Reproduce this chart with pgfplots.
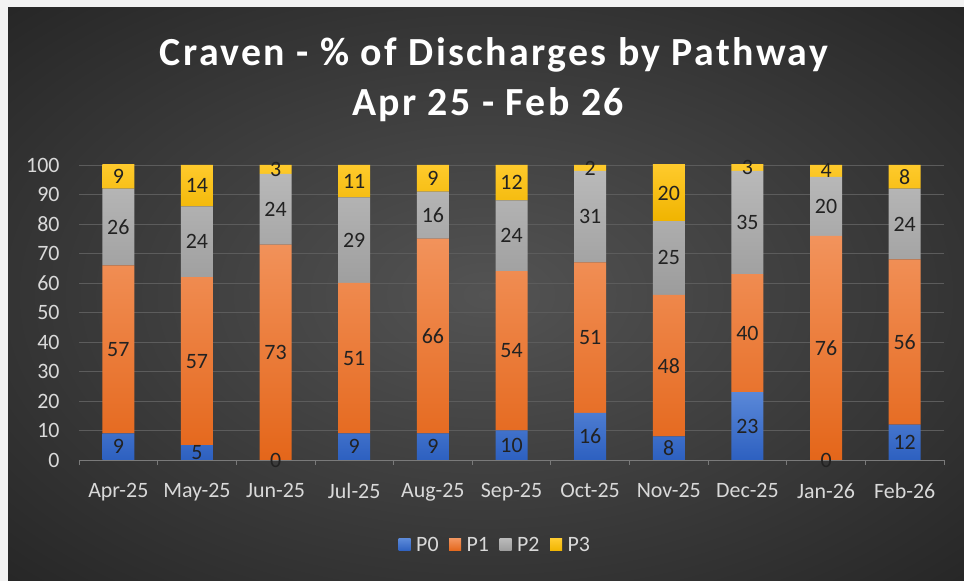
\documentclass[border=0pt]{standalone}
\usepackage{pgfplots}
\usepackage{pgfplotstable}
\pgfplotsset{compat=1.18}
\usepackage{fontspec}
\setmainfont{Carlito}
\definecolor{bgouter}{HTML}{F2F2F2}
\definecolor{bgin}{HTML}{535353}
\definecolor{bgout}{HTML}{262626}
\definecolor{gridc}{HTML}{5C5C5C}
\definecolor{axisc}{HTML}{7A7A7A}
\definecolor{tickc}{HTML}{D9D9D9}
\definecolor{lblc}{HTML}{222222}
\definecolor{p0t}{HTML}{5A88D8}
\definecolor{p0b}{HTML}{2D60C0}
\definecolor{p1t}{HTML}{F2935C}
\definecolor{p1b}{HTML}{E4661A}
\definecolor{p2t}{HTML}{B9B9B9}
\definecolor{p2b}{HTML}{9C9C9C}
\definecolor{p3t}{HTML}{FFCB2E}
\definecolor{p3b}{HTML}{F0B400}
\pgfdeclareradialshading{bgshade}{\pgfpoint{0bp}{0bp}}{color(0bp)=(bgin); color(36bp)=(bgout); color(50bp)=(bgout)}
% label positions (middle of each visible segment) and the values shown
\pgfplotstableread{
x y v
0 4.5 9
1 2.5 5
2 0 0
3 4.5 9
4 4.5 9
5 5 10
6 8 16
7 4 8
8 11.5 23
9 0 0
10 6 12
0 37.5 57
1 33.5 57
2 36.5 73
3 34.5 51
4 42 66
5 37 54
6 41.5 51
7 32 48
8 43 40
9 38 76
10 40 56
0 79 26
1 74 24
2 85 24
3 74.5 29
4 83 16
5 76 24
6 82.5 31
7 68.5 25
8 80.5 35
9 86 20
10 80 24
0 96 9
1 93 14
2 98.5 3
3 94.5 11
4 95.5 9
5 94 12
6 99 2
7 90.5 20
8 99 3
9 98 4
10 96 8
}\labels
\begin{document}
\begin{tikzpicture}
\fill[bgouter] (0bp,0bp) rectangle (964bp,581bp);
\shade[shading=bgshade] (8bp,0bp) rectangle (964bp,573bp);
\node[white, font=\fontsize{40}{44}\selectfont\bfseries\addfontfeatures{LetterSpace=6}] at (494bp,526bp) {Craven - \% of Discharges by Pathway};
\node[white, font=\fontsize{40}{44}\selectfont\bfseries\addfontfeatures{LetterSpace=6}] at (488bp,476bp) {Apr 25 - Feb 26};
\begin{axis}[
  at={(79bp,121bp)}, anchor=south west,
  scale only axis, width=865bp, height=295bp,
  ybar stacked, bar width=32bp,
  xmin=-0.5, xmax=10.5, ymin=0, ymax=100,
  ytick={0,10,...,100},
  xtick={0,...,10},
  xticklabels={Apr-25,May-25,Jun-25,Jul-25,Aug-25,Sep-25,Oct-25,Nov-25,Dec-25,Jan-26,Feb-26},
  minor xtick={-0.5,0.5,...,10.5},
  major tick length=0pt, minor tick length=5bp,
  tick align=outside,
  minor tick style={axisc, line width=0.8bp},
  axis lines*=left,
  x axis line style={axisc, line width=0.8bp},
  y axis line style={draw=none},
  ymajorgrids, grid style={gridc, line width=0.8bp},
  /pgf/number format/assume math mode=true,
  tick label style={tickc, font=\fontsize{22}{24}\selectfont},
  yticklabel style={xshift=-16bp},
  xticklabel style={yshift=-20bp},
  legend style={at={(0.481,-0.288)}, anchor=center, legend columns=-1, draw=none, fill=none, text=tickc, font=\fontsize{22}{24}\selectfont, nodes={inner sep=1.5bp}, /tikz/every odd column/.append style={column sep=4bp}, /tikz/every even column/.append style={column sep=9bp}},
  legend image code/.code={\path[#1, draw=none] (0bp,-6bp) rectangle (12bp,6bp);},
]
\addplot[draw=none, top color=p0t, bottom color=p0b] coordinates {(0,9) (1,5) (2,0) (3,9) (4,9) (5,10) (6,16) (7,8) (8,23) (9,0) (10,12)};
\addplot[draw=none, top color=p1t, bottom color=p1b] coordinates {(0,57) (1,57) (2,73) (3,51) (4,66) (5,54) (6,51) (7,48) (8,40) (9,76) (10,56)};
\addplot[draw=none, top color=p2t, bottom color=p2b] coordinates {(0,26) (1,24) (2,24) (3,29) (4,16) (5,24) (6,31) (7,25) (8,35) (9,20) (10,24)};
\addplot[draw=none, top color=p3t, bottom color=p3b] coordinates {(0,9) (1,14) (2,3) (3,11) (4,9) (5,12) (6,2) (7,20) (8,3) (9,4) (10,8)};
\legend{P0,P1,P2,P3}
\end{axis}
\begin{axis}[
  at={(79bp,121bp)}, anchor=south west,
  scale only axis, width=865bp, height=295bp,
  xmin=-0.5, xmax=10.5, ymin=0, ymax=100,
  hide axis, clip=false,
]
\addplot[only marks, mark=none, nodes near coords, point meta=explicit symbolic,
  every node near coord/.append style={anchor=center, lblc, font=\fontsize{22}{24}\selectfont, inner sep=0pt}]
  table[x=x, y=y, meta=v] {\labels};
\end{axis}
\end{tikzpicture}
\end{document}
